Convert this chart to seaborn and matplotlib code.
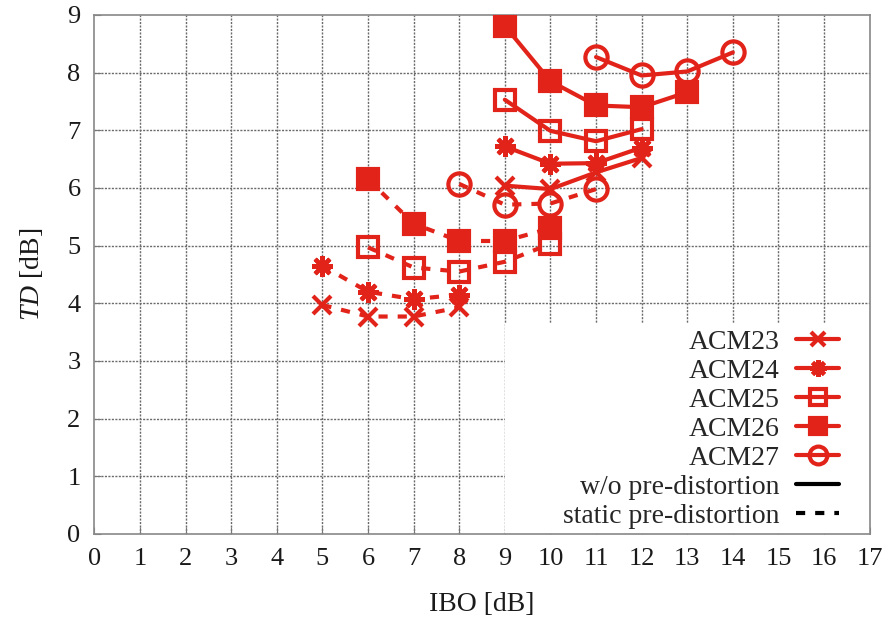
import matplotlib
matplotlib.use("Agg")
import matplotlib.pyplot as plt
from matplotlib.lines import Line2D
from matplotlib.patches import Rectangle
import seaborn as sns
import pandas as pd

sns.set_theme(style="white")
plt.rcParams['font.family'] = ['Liberation Serif', 'DejaVu Serif']
plt.rcParams['mathtext.fontset'] = 'custom'
plt.rcParams['mathtext.it'] = 'Liberation Serif:italic'
plt.rcParams['mathtext.rm'] = 'Liberation Serif'

RED = '#e2231a'

# w/o pre-distortion (solid)
acm23_x = [9, 10, 11, 12]
acm23_y = [6.04, 5.98, 6.27, 6.52]
acm24_x = [9, 10, 11, 12]
acm24_y = [6.72, 6.42, 6.43, 6.70]
acm25_x = [9, 10, 11, 12]
acm25_y = [7.53, 6.99, 6.81, 7.02]
acm26_x = [9, 10, 11, 12, 13]
acm26_y = [8.81, 7.85, 7.43, 7.40, 7.66]
acm27_x = [11, 12, 13, 14]
acm27_y = [8.27, 7.95, 8.02, 8.35]

# static pre-distortion (dashed)
acm23s_x = [5, 6, 7, 8]
acm23s_y = [3.97, 3.77, 3.77, 3.93]
acm24s_x = [5, 6, 7, 8]
acm24s_y = [4.65, 4.20, 4.07, 4.15]
acm25s_x = [6, 7, 8, 9, 10]
acm25s_y = [4.97, 4.62, 4.55, 4.72, 5.03]
acm26s_x = [6, 7, 8, 9, 10]
acm26s_y = [6.15, 5.38, 5.08, 5.08, 5.30]
acm27s_x = [8, 9, 10, 11]
acm27s_y = [6.07, 5.71, 5.73, 5.98]

labels = ['ACM23', 'ACM24', 'ACM25', 'ACM26', 'ACM27']
x_ticks = list(range(0, 18))
y_ticks = list(range(0, 10))

STAR = (8, 2, 0)
styles = {
    'ACM23': dict(marker='x', markersize=13, fillstyle='full'),
    'ACM24': dict(marker=STAR, markersize=15, fillstyle='full'),
    'ACM25': dict(marker='s', markersize=15, fillstyle='none'),
    'ACM26': dict(marker='s', markersize=14, fillstyle='full'),
    'ACM27': dict(marker='o', markersize=16, fillstyle='none'),
}

solid = {'ACM23': (acm23_x, acm23_y), 'ACM24': (acm24_x, acm24_y),
         'ACM25': (acm25_x, acm25_y), 'ACM26': (acm26_x, acm26_y),
         'ACM27': (acm27_x, acm27_y)}
dashed = {'ACM23': (acm23s_x, acm23s_y), 'ACM24': (acm24s_x, acm24s_y),
          'ACM25': (acm25s_x, acm25s_y), 'ACM26': (acm26s_x, acm26s_y),
          'ACM27': (acm27s_x, acm27s_y)}

fig = plt.figure(figsize=(8.91, 6.23), dpi=100)
ax = fig.add_axes([0.106, 0.143, 0.870, 0.833])

ax.set_xlim(0, 17)
ax.set_ylim(0, 9)

# grid drawn manually (below the legend backdrop)
GRID = '#6a6a6a'
for xv in x_ticks[1:-1]:
    ax.axvline(xv, color=GRID, lw=1.0, ls=(0, (1.5, 1.0)), zorder=0.5)
for yv in y_ticks[1:-1]:
    ax.axhline(yv, color=GRID, lw=1.0, ls=(0, (1.5, 1.0)), zorder=0.5)

# white legend backdrop
ax.add_patch(Rectangle((0.529, 0.0), 0.471, 0.406, transform=ax.transAxes,
                       facecolor='white', edgecolor='none', zorder=1))

DASH = (0, (2.2, 2.4))
for name in labels:
    st = styles[name]
    for data, ls in ((solid, '-'), (dashed, DASH)):
        xs, ys = data[name]
        df = pd.DataFrame({'x': xs, 'y': ys})
        sns.lineplot(data=df, x='x', y='y', ax=ax, color=RED, lw=3,
                     linestyle=ls, marker=st['marker'],
                     markersize=st['markersize'], fillstyle=st['fillstyle'],
                     markeredgecolor=RED, markerfacecolor=(RED if st['fillstyle'] == 'full' else 'none'),
                     markeredgewidth=3, zorder=3, legend=False,
                     estimator=None, sort=False)

handles = []
for name in labels:
    st = styles[name]
    handles.append(Line2D([], [], color=RED, lw=3, marker=st['marker'],
                          markersize=st['markersize'] * 0.8, fillstyle=st['fillstyle'],
                          markeredgecolor=RED, markeredgewidth=3,
                          markerfacecolor=(RED if st['fillstyle'] == 'full' else 'none')))
handles.append(Line2D([], [], color='black', lw=3, ls='-'))
handles.append(Line2D([], [], color='black', lw=3, ls=DASH))
leg_labels = labels + ['w/o pre-distortion', 'static pre-distortion']
leg = ax.legend(handles, leg_labels, loc='lower right',
                bbox_to_anchor=(0.986, -0.028), frameon=False, markerfirst=False,
                fontsize=20, handlelength=1.55, handletextpad=0.6,
                labelspacing=0.13, borderpad=0.2)
leg.set_zorder(5)

ax.set_xticks(x_ticks)
ax.set_yticks(y_ticks)
ax.tick_params(axis='both', direction='in', length=5, width=0.8, color='#777777',
               labelsize=19, labelcolor='#1a1a1a', pad=10, bottom=True, left=True)
for s in ax.spines.values():
    s.set_color('#888888')
    s.set_linewidth(1.2)

ax.set_xlabel('IBO [dB]', fontsize=20, color='#1a1a1a', labelpad=16)
ax.set_ylabel(r'$TD$ [dB]', fontsize=20, color='#1a1a1a', labelpad=16)

fig.savefig('out.png', dpi=100)
